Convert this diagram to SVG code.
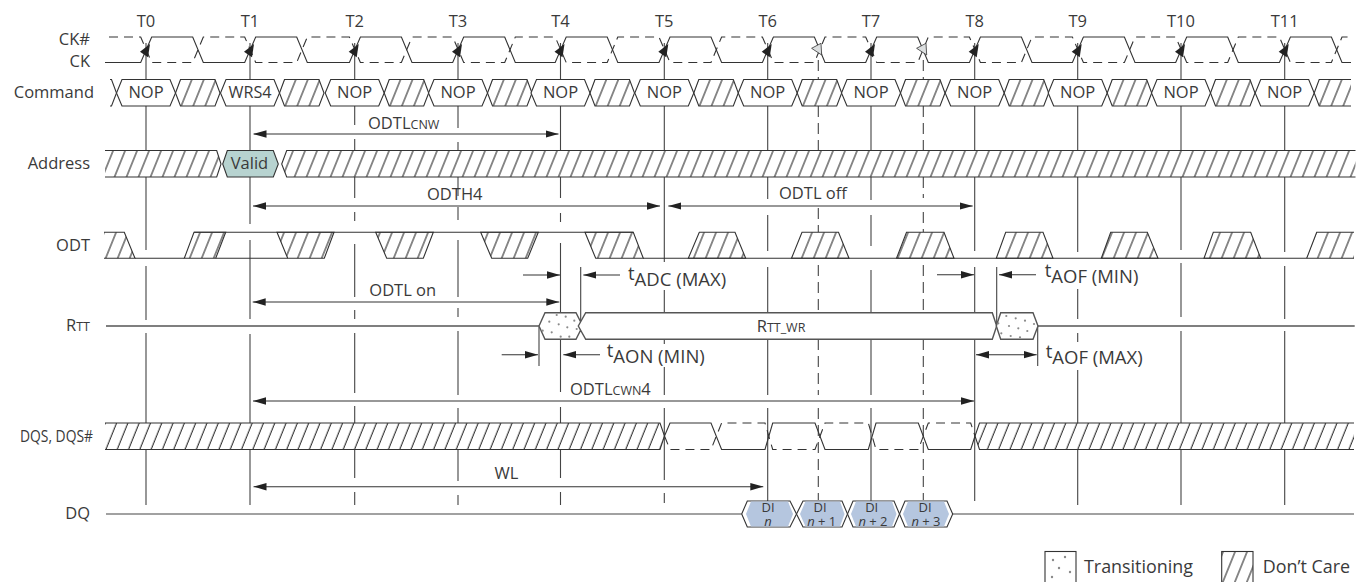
<svg xmlns="http://www.w3.org/2000/svg" width="1364" height="582" viewBox="0 0 1364 582">
<style>
text{font-family:"Open Sans","Noto Sans","Liberation Sans",sans-serif;font-size:16.5px;fill:#3a3a3a}
.m{text-anchor:middle}.e{text-anchor:end}
.s{font-size:12.5px}.b{font-size:18.5px}.d{font-size:13px}.g{font-size:17.9px}
.l{fill:none;stroke:#333;stroke-width:1.1}
.h{fill:url(#hatch);stroke:#333;stroke-width:1.1}
.hn{fill:url(#hatch);stroke:none}
.w{fill:#fff;stroke:#333;stroke-width:1.1}
.wr{fill:#fff;stroke:#555;stroke-width:1.4}
.r{fill:none;stroke:#555;stroke-width:1.5}
.dash{fill:none;stroke:#333;stroke-width:1.1;stroke-dasharray:9 6}
.t{fill:none;stroke:#444;stroke-width:1.1}
.td{fill:none;stroke:#444;stroke-width:1.1;stroke-dasharray:11 6}
.a{fill:none;stroke:#333;stroke-width:1.1;marker-end:url(#ah)}
.aa{fill:none;stroke:#333;stroke-width:1.1;marker-end:url(#ah);marker-start:url(#ah)}
.ck{fill:#222}.ckg{fill:#dcdfe0;stroke:#333;stroke-width:.8}
.dot{fill:#8a8a8a}
.blue{fill:#b5c6df}
</style>
<defs>
<pattern id="hatch" patternUnits="userSpaceOnUse" width="12" height="10" patternTransform="skewX(-22)"><line x1="6" y1="-1" x2="6" y2="11" stroke="#1f1f1f" stroke-width="1.1"/></pattern>
<pattern id="hatch2" patternUnits="userSpaceOnUse" width="11.3" height="10" patternTransform="skewX(-22)"><line x1="5" y1="-1" x2="5" y2="11" stroke="#1f1f1f" stroke-width="1.1"/></pattern>
<marker id="ah" markerUnits="userSpaceOnUse" markerWidth="13" markerHeight="8" viewBox="0 0 13 8" refX="13" refY="4" orient="auto-start-reverse"><path d="M0,0.3L13,4L0,7.7Z" fill="#222"/></marker>
<g id="slot"><path class="w" d="M-29.5,93L-24,79.5H24L29.5,93L24,106H-24Z"/><path class="h" d="M29.5,93L34.5,79.5H69L74,93L69,106H34.5Z"/></g>
<path id="ckA" class="ck" d="M-6,51.7L4,44L2,57.3Z"/>
<path id="ckG" class="ckg" d="M-6.7,48.3L2.7,43.3L3.4,55Z"/>
</defs>

<g id="connectors">
<g id="clock-lines">
<path class="t" d="M146,43V79M146,106V150M146,177V250M146,266V320M146,333V423M146,450V505"/>
<path class="t" d="M250,43V79M250,106V150M250,177V224M250,240V319M250,334V423M250,450V505"/>
<path class="t" d="M354.7,43V79M354.7,106V125M354.7,139V150M354.7,177V198M354.7,212V221M354.7,244V297M354.7,310V319M354.7,333V393M354.7,406V423M354.7,449V478M354.7,492V505"/>
<path class="t" d="M458,43V79M458,106V128M458,142V150M458,177V196M458,207V220M458,240V297M458,308V317M458,331V395M458,408V423M458,449V481M458,495V505"/>
<path class="t" d="M560.5,43V79M560.5,106V150M560.5,177V198M560.5,213V222M560.5,243V313M560.5,339V392M560.5,407V423M560.5,449V478M560.5,492V505"/>
<path class="t" d="M664.3,43V79M664.3,106V150M664.3,177V262M664.3,290V313M664.3,340V344M664.3,367V395M664.3,408V480M664.3,493V503"/>
<path class="t" d="M767.7,43V79M767.7,106V150M767.7,177V199M767.7,215V251M767.7,267V313M767.7,339V395M767.7,408V503"/>
<path class="t" d="M871,43V79M871,106V150M871,177V200M871,215V246M871,270V313M871,339V395M871,408V503"/>
<path class="t" d="M974.7,43V79M974.7,106V150M974.7,177V251M974.7,267V313M974.7,339V501"/>
<path class="t" d="M1077.7,43V79M1077.7,106V150M1077.7,177V252M1077.7,289V319M1077.7,333V342M1077.7,370V423M1077.7,450V505"/>
<path class="t" d="M1181,43V79M1181,106V150M1181,177V250M1181,263V317M1181,331V423M1181,450V505"/>
<path class="t" d="M1284.7,43V79M1284.7,106V150M1284.7,177V252M1284.7,266V319M1284.7,331V423M1284.7,450V505"/>
<path class="td" d="M818.3,60V79M818.3,106V150M818.3,208V232M818.3,265V313M818.3,339V395M818.3,408V500"/>
<path class="td" d="M923.3,60V79M923.3,106V150M923.3,177V198M923.3,212V232M923.3,265V313M923.3,339V395M923.3,408V500"/>
</g>
<g id="measure-lines">
<path class="t" d="M580.7,267V332M539,327V366M996.7,267V327M1037.7,326V366"/>
</g>
<g id="arrows">
<path class="aa" d="M253.5,134H558.5"/>
<path class="aa" d="M253,206H660"/>
<path class="aa" d="M668.3,206H972.7"/>
<path class="a" d="M523,275H560"/>
<path class="a" d="M620,275H583.3"/>
<path class="aa" d="M252.7,302H559.3"/>
<path class="a" d="M501.7,354.7H538"/>
<path class="a" d="M600,354.7H563.3"/>
<path class="a" d="M937,274.7H974"/>
<path class="a" d="M1036,274.7H999"/>
<path class="aa" d="M976,354.7H1036.7"/>
<path class="aa" d="M253,401H974"/>
<path class="aa" d="M253.5,486.7H763.3"/>
</g>
</g>

<g id="labels-time">
<text class="m" x="146" y="27">T0</text><text class="m" x="250" y="27">T1</text><text class="m" x="354.7" y="27">T2</text><text class="m" x="458" y="27">T3</text><text class="m" x="560.5" y="27">T4</text><text class="m" x="664.3" y="27">T5</text><text class="m" x="767.7" y="27">T6</text><text class="m" x="871" y="27">T7</text><text class="m" x="974.7" y="27">T8</text><text class="m" x="1077.7" y="27">T9</text><text class="m" x="1181" y="27">T10</text><text class="m" x="1284.7" y="27">T11</text>
</g>

<g id="sig-ck">
<text class="e" x="90" y="44.5">CK#</text><text class="e" x="90" y="66.5">CK</text>
<path class="dash" d="M109,37H140.7L151.7,62.5H192.7L203.3,37H244.7L255.7,62.5H296.7L307.3,37H349.4L360.4,62.5H401.4L412,37H452.7L463.7,62.5H504.7L515.3,37H555.2L566.2,62.5H607.2L617.8,37H659L670,62.5H711L721.6,37H762.4L773.4,62.5H814.4L825,37H865.7L876.7,62.5H917.7L928.3,37H969.4L980.4,62.5H1021.4L1032,37H1072.4L1083.4,62.5H1124.4L1135,37H1175.7L1186.7,62.5H1227.7L1238.3,37H1279.4L1290.4,62.5H1331.4L1342,37H1351"/>
<path class="l" d="M105,62.5H140.7L151.7,37H192.7L203.3,62.5H244.7L255.7,37H296.7L307.3,62.5H349.4L360.4,37H401.4L412,62.5H452.7L463.7,37H504.7L515.3,62.5H555.2L566.2,37H607.2L617.8,62.5H659L670,37H711L721.6,62.5H762.4L773.4,37H814.4L825,62.5H865.7L876.7,37H917.7L928.3,62.5H969.4L980.4,37H1021.4L1032,62.5H1072.4L1083.4,37H1124.4L1135,62.5H1175.7L1186.7,37H1227.7L1238.3,62.5H1279.4L1290.4,37H1331.4L1342,62.5H1351"/>
<use href="#ckA" x="146"/><use href="#ckA" x="250"/><use href="#ckA" x="354.7"/><use href="#ckA" x="458"/><use href="#ckA" x="560.5"/><use href="#ckA" x="664.3"/><use href="#ckA" x="767.7"/><use href="#ckA" x="871"/><use href="#ckA" x="974.7"/><use href="#ckA" x="1077.7"/><use href="#ckA" x="1181"/><use href="#ckA" x="1284.7"/>
<use href="#ckG" x="818.3"/><use href="#ckG" x="923.3"/>
</g>

<g id="sig-command">
<text class="e" x="94" y="98">Command</text>
<path class="l" d="M110,79.5H111.5L116.5,93L111.5,106H110"/>
<use href="#slot" x="146"/><use href="#slot" x="250"/><use href="#slot" x="354.7"/><use href="#slot" x="458"/><use href="#slot" x="560.5"/><use href="#slot" x="664.3"/><use href="#slot" x="767.7"/><use href="#slot" x="871"/><use href="#slot" x="974.7"/><use href="#slot" x="1077.7"/><use href="#slot" x="1181"/>
<path class="w" d="M1255.2,93L1260.7,79.5H1308.7L1314.2,93L1308.7,106H1260.7Z"/>
<path class="hn" d="M1314.2,93L1319.2,79.5H1351V106H1319.2Z"/>
<path class="l" d="M1351,79.5H1319.2L1314.2,93L1319.2,106H1351"/>
<text class="m" x="146" y="98">NOP</text><text class="m" x="250" y="98" textLength="43" lengthAdjust="spacingAndGlyphs">WRS4</text><text class="m" x="354.7" y="98">NOP</text><text class="m" x="458" y="98">NOP</text><text class="m" x="560.5" y="98">NOP</text><text class="m" x="664.3" y="98">NOP</text><text class="m" x="767.7" y="98">NOP</text><text class="m" x="871" y="98">NOP</text><text class="m" x="974.7" y="98">NOP</text><text class="m" x="1077.7" y="98">NOP</text><text class="m" x="1181" y="98">NOP</text><text class="m" x="1284.7" y="98">NOP</text>
</g>

<g id="sig-address">
<text class="e" x="90" y="169">Address</text>
<path class="hn" d="M105,150.5H216.7L221,164L216.7,177H105Z"/>
<path class="l" d="M105,150.5H216.7L221,164L216.7,177H105"/>
<path d="M222.7,164L227.3,150.5H273.3L278.3,164L273.3,177H227.3Z" fill="#b7d3d0" stroke="#333" stroke-width="1.1"/>
<path class="hn" d="M281.7,164L286.7,150.5H1355.5V177H286.7Z"/>
<path class="l" d="M1355.5,150.5H286.7L281.7,164L286.7,177H1355.5"/>
<text class="m" x="249.5" y="168.5">Valid</text>
</g>

<g id="sig-odt">
<text class="e" x="90" y="251">ODT</text>
<path class="hn" d="M104,232.3H124.3L135,258.3H104Z"/>
<path class="l" d="M104,232.3H124.3L135,258.3H104"/>
<path class="h" d="M184.3,258.3L194,232.3H225.7L215.7,258.3Z"/>
<path class="l" d="M194,232.3H633.3"/>
<path class="h" d="M277,232.3H334L324.3,258.3H287.7Z"/>
<path class="h" d="M375.7,232.3H433.3L423.3,258.3H386.7Z"/>
<path class="h" d="M480.7,232.3H538.3L527.7,258.3H491.7Z"/>
<path class="h" d="M585,232.3H633.3L643.3,258.3H595.7Z"/>
<path class="h" d="M688.3,258.3L699.3,232.3H735L745.7,258.3Z"/>
<path class="h" d="M791.5,258.3L802,232.3H838.5L849,258.3Z"/>
<path class="h" d="M896.5,258.3L906.5,232.3H944L954,258.3Z"/>
<path class="h" d="M996.3,258.3L1005.7,232.3H1043L1053,258.3Z"/>
<path class="h" d="M1101.3,258.3L1110.7,232.3H1147.3L1158,258.3Z"/>
<path class="h" d="M1204,258.3L1213.3,232.3H1250.7L1260.7,258.3Z"/>
<path class="hn" d="M1306.7,258.3L1316.7,232.3H1354V258.3Z"/>
<path class="l" d="M1354,232.3H1316.7L1306.7,258.3"/>
<path class="l" d="M135,258.3H184.3M215.7,258.3H287.7M643,258.3H1354"/>
</g>

<g id="sig-rtt">
<text class="e" x="90" y="331"><tspan>R</tspan><tspan class="s">TT</tspan></text>
<path class="r" d="M106,326H539M1038,326H1354.7"/>
<path class="wr" d="M539,326L545,312.7H576L582.7,326L576,339.3H545Z"/>
<path class="wr" d="M578.3,326L585.7,312.7H992.3L996.7,326L992.3,339.3H585.7Z"/>
<path class="wr" d="M996.3,326L1000.7,312.7H1033L1038,326L1033,339.3H1000.7Z"/>
<g class="dot"><circle cx="549.3" cy="321.7" r="1.1"/><circle cx="556.7" cy="315" r="1.1"/><circle cx="565.7" cy="316.7" r="1.1"/><circle cx="574.3" cy="320.7" r="1.1"/><circle cx="558.7" cy="324.3" r="1.1"/><circle cx="567.3" cy="327.3" r="1.1"/><circle cx="576.7" cy="329" r="1.1"/><circle cx="542.7" cy="330.7" r="1.1"/><circle cx="551.7" cy="332.3" r="1.1"/><circle cx="560.7" cy="336.7" r="1.1"/><circle cx="569.3" cy="336.7" r="1.1"/>
<circle cx="1006.3" cy="316" r="1.1"/><circle cx="1015.7" cy="318.3" r="1.1"/><circle cx="1025" cy="320.7" r="1.1"/><circle cx="1034" cy="324" r="1.1"/><circle cx="998.3" cy="323.3" r="1.1"/><circle cx="1009" cy="326" r="1.1"/><circle cx="1018.3" cy="328.3" r="1.1"/><circle cx="1027.3" cy="331" r="1.1"/><circle cx="1001.3" cy="333.3" r="1.1"/><circle cx="1010.7" cy="336" r="1.1"/><circle cx="1020" cy="337.3" r="1.1"/></g>
<text x="756.7" y="331.5"><tspan>R</tspan><tspan class="s">TT_WR</tspan></text>
</g>

<g id="sig-dqs">
<text x="20" y="442" textLength="73" lengthAdjust="spacingAndGlyphs">DQS, DQS#</text>
<path fill="url(#hatch2)" d="M105,423H660L664.5,436L660,449.5H105Z"/>
<path class="l" d="M105,423H660L664.5,436L660,449.5H105"/>
<path class="dash" d="M664.5,436L670,449.5H711L721.6,423H765L772.7,449.5H815L825,423H868.3L876,449.5H918.3L928.3,423H970.7L975,436"/>
<path class="l" d="M664.5,436L670,423H711L721.6,449.5H765L772.7,423H815L825,449.5H868.3L876,423H918.3L928.3,449.5H970.7L975,436"/>
<path fill="url(#hatch2)" d="M975,436L979.5,423H1354V449.5H979.5Z"/>
<path class="l" d="M1354,423H979.5L975,436L979.5,449.5H1354"/>
</g>

<g id="sig-dq">
<text class="e" x="90" y="519">DQ</text>
<path class="r" style="stroke:#444;stroke-width:1.2" d="M106,514H741.7M953,514H1354"/>
<path class="w" d="M741.7,514L747.3,501H790L796.5,514L790,527H747.3Z"/>
<path class="w" d="M796.5,514L803,501H842L847.5,514L842,527H803Z"/>
<path class="w" d="M847.5,514L853,501H894L899.5,514L894,527H853Z"/>
<path class="w" d="M899.5,514L905,501H947L952.7,514L947,527H905Z"/>
<g class="blue"><path d="M746,514L751,501.6H788L793,514L788,526.4H751Z"/><path d="M800,514L805.5,501.6H840L844.5,514L840,526.4H805.5Z"/><path d="M851,514L856,501.6H892L896.5,514L892,526.4H856Z"/><path d="M903,514L908,501.6H944L949,514L944,526.4H908Z"/></g>
<text class="m d" x="768" y="512">DI</text><text class="m d" x="768" y="525.5" font-style="italic">n</text>
<text class="m d" x="820" y="512">DI</text><text class="m d" x="821.7" y="525.5"><tspan font-style="italic">n</tspan> + 1</text>
<text class="m d" x="871.7" y="512">DI</text><text class="m d" x="873" y="525.5"><tspan font-style="italic">n</tspan> + 2</text>
<text class="m d" x="925" y="512">DI</text><text class="m d" x="926" y="525.5"><tspan font-style="italic">n</tspan> + 3</text>
</g>

<g id="measure-labels">
<text x="368" y="128.5">ODTL<tspan class="s">CNW</tspan></text>
<text x="427" y="200">ODTH4</text>
<text x="779" y="199">ODTL off</text>
<text x="369.3" y="296">ODTL on</text>
<text x="570" y="395">ODTL<tspan class="s">CWN</tspan>4</text>
<text x="494.5" y="479">WL</text>
<text class="b" x="628" y="280">t<tspan dy="6">ADC (MAX)</tspan></text>
<text class="b" x="606.7" y="357">t<tspan dy="6">AON (MIN)</tspan></text>
<text class="b" x="1044.7" y="277">t<tspan dy="6">AOF (MIN)</tspan></text>
<text class="b" x="1045.7" y="358">t<tspan dy="6">AOF (MAX)</tspan></text>
</g>

<g id="legend">
<rect x="1045" y="551.5" width="31" height="40" fill="#fff" stroke="#333" stroke-width="1.1"/>
<g class="dot"><circle cx="1053" cy="560" r="1.2"/><circle cx="1065" cy="557" r="1.2"/><circle cx="1059" cy="568" r="1.2"/><circle cx="1070" cy="572" r="1.2"/><circle cx="1052" cy="577" r="1.2"/></g>
<text class="g" x="1084" y="572.7">Transitioning</text>
<rect x="1221.7" y="551.5" width="31.3" height="40" fill="url(#hatch)" stroke="#333" stroke-width="1.1"/>
<text class="g" x="1262.7" y="572.7">Don’t Care</text>
</g>
</svg>
